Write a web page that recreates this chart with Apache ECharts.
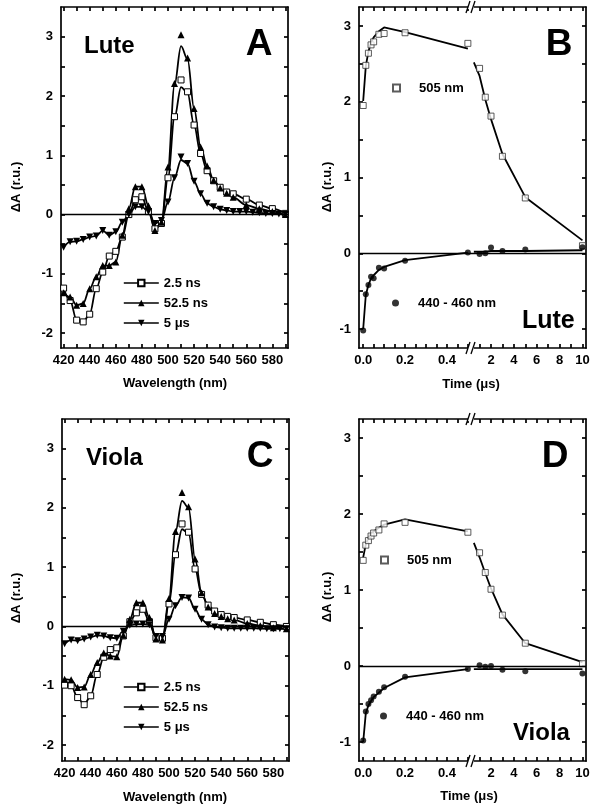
<!DOCTYPE html>
<html><head><meta charset="utf-8">
<script src="https://cdn.jsdelivr.net/npm/echarts@6/dist/echarts.min.js"></script>
<style>html,body{margin:0;padding:0;background:#fff}#c{width:600px;height:811px}</style>
</head><body><div id="c"></div>
<script>
// ---------- data ----------
const wlMain = [420,425,430,435,440,445,450,455,460,465,470,475,480,485,490,495,500,505,510,515,520,525,530,535,540,545,550,560,570,580,590];
const wlFull = [420,425,430,435,440,445,450,455,460,465,470,475,480,485,490,495,500,505,510,515,520,525,530,535,540,545,550,555,560,565,570,575,580,585,590];

// Panel A (Lute)
const lute25    = [-1.24,-1.45,-1.78,-1.81,-1.68,-1.25,-0.97,-0.70,-0.62,-0.38,0.00,0.25,0.30,0.05,-0.24,-0.15,0.62,1.65,2.27,2.07,1.51,1.03,0.74,0.57,0.46,0.38,0.35,0.26,0.16,0.10,0.02];
const lute25Fit = [-1.24,-1.45,-1.78,-1.81,-1.68,-1.25,-0.97,-0.70,-0.62,-0.38,0.00,0.25,0.30,0.05,-0.24,-0.15,0.62,1.63,2.15,2.05,1.51,1.03,0.74,0.57,0.46,0.38,0.35,0.26,0.16,0.10,0.02];
const lute52    = [-1.32,-1.39,-1.53,-1.50,-1.25,-1.05,-0.86,-0.86,-0.80,-0.35,0.10,0.47,0.47,0.15,-0.27,-0.13,0.80,2.21,3.03,2.64,1.79,1.14,0.82,0.58,0.45,0.36,0.29,0.16,0.10,0.05,0.00];
const lute52Fit = [-1.32,-1.39,-1.53,-1.50,-1.25,-1.05,-0.86,-0.86,-0.80,-0.35,0.10,0.47,0.47,0.15,-0.27,-0.13,0.80,2.18,2.84,2.62,1.79,1.14,0.82,0.58,0.45,0.36,0.29,0.16,0.10,0.05,0.00];
const lute5us    = [-0.55,-0.46,-0.45,-0.42,-0.38,-0.36,-0.27,-0.35,-0.29,-0.13,0.00,0.13,0.13,0.05,-0.15,-0.10,0.21,0.62,0.97,0.86,0.56,0.35,0.19,0.13,0.09,0.07,0.05,0.05,0.05,0.04,0.03,0.02,0.02,0.01,0.00];
const lute5usFit = [-0.55,-0.46,-0.45,-0.42,-0.38,-0.36,-0.27,-0.35,-0.29,-0.13,0.00,0.13,0.13,0.05,-0.15,-0.10,0.21,0.62,0.92,0.86,0.56,0.35,0.19,0.13,0.09,0.07,0.05,0.05,0.05,0.04,0.03,0.02,0.02,0.01,0.00];

// Panel C (Viola)
const viola25    = [-0.99,-1.00,-1.20,-1.32,-1.17,-0.81,-0.52,-0.39,-0.36,-0.16,0.08,0.23,0.29,0.08,-0.19,-0.20,0.38,1.21,1.73,1.59,0.97,0.54,0.36,0.26,0.20,0.17,0.15,0.11,0.07,0.03,0.00];
const viola25Fit = [-0.99,-1.00,-1.20,-1.32,-1.17,-0.81,-0.52,-0.39,-0.36,-0.16,0.08,0.23,0.29,0.08,-0.19,-0.20,0.38,1.21,1.64,1.57,0.97,0.54,0.36,0.26,0.20,0.17,0.15,0.11,0.07,0.03,0.00];
const viola52    = [-0.89,-0.90,-1.03,-1.02,-0.81,-0.61,-0.45,-0.50,-0.51,-0.15,0.12,0.40,0.40,0.15,-0.21,-0.23,0.47,1.60,2.26,2.02,1.14,0.57,0.33,0.22,0.17,0.13,0.11,0.05,0.01,-0.02,-0.04];
const viola52Fit = [-0.89,-0.90,-1.03,-1.02,-0.81,-0.61,-0.45,-0.50,-0.51,-0.15,0.12,0.40,0.40,0.15,-0.21,-0.23,0.47,1.60,2.12,2.00,1.14,0.57,0.33,0.22,0.17,0.13,0.11,0.05,0.01,-0.02,-0.04];
const viola5us   = [-0.29,-0.23,-0.24,-0.21,-0.18,-0.15,-0.16,-0.19,-0.20,-0.08,0.02,0.04,0.04,0.03,-0.17,-0.17,0.12,0.35,0.49,0.48,0.29,0.12,0.03,-0.01,-0.02,-0.03,-0.03,-0.03,-0.03,-0.03,-0.03,-0.04,-0.04,-0.04,-0.04];

// Panels B and D (kinetics)
const tEarly = [0, 0.0125, 0.025, 0.0375, 0.05, 0.075, 0.1, 0.2, 0.5];
const tLate  = [1, 1.5, 2, 3, 5, 10];
const tFitLate = [0.5, 1, 1.5, 2, 3, 5, 10];

const lute505Early = [1.95,2.48,2.64,2.75,2.79,2.89,2.90,2.91,2.77];
const lute505Late  = [2.44,2.06,1.81,1.28,0.73,0.10];
const lute505FitEarly = [2.01,2.47,2.66,2.78,2.85,2.93,2.98,2.92,2.70];
const lute505FitLate  = [2.52,2.34,2.03,1.77,1.31,0.74,0.17];
const lute440Early = [-1.02,-0.54,-0.42,-0.31,-0.33,-0.19,-0.20,-0.10,0.01];
const lute440Late  = [-0.01,0.00,0.075,0.03,0.05,0.08];
const lute440FitEarly = [-1.00,-0.55,-0.42,-0.33,-0.29,-0.22,-0.18,-0.09,0.01];
const lute440FitLate  = [0.02,0.02,0.02,0.03,0.03,0.03,0.04];

const viola505Early = [1.39,1.59,1.65,1.71,1.75,1.79,1.87,1.89,1.76];
const viola505Late  = [1.49,1.23,1.01,0.67,0.30,0.03];
const viola505FitEarly = [1.43,1.60,1.69,1.74,1.77,1.82,1.86,1.93,1.77];
const viola505FitLate  = [1.62,1.43,1.22,1.02,0.68,0.30,0.05];
const viola440Early = [-0.98,-0.60,-0.50,-0.45,-0.40,-0.34,-0.28,-0.14,-0.04];
const viola440Late  = [0.01,-0.01,0.00,-0.05,-0.07,-0.10];
const viola440FitEarly = [-1.00,-0.62,-0.52,-0.46,-0.41,-0.35,-0.29,-0.15,-0.04];
const viola440FitLate  = [-0.04,-0.04,-0.04,-0.04,-0.04,-0.04,-0.04];

// ---------- ticks / labels ----------
const wlTicks  = [420,430,440,450,460,470,480,490,500,510,520,530,540,550,560,570,580,590];
const wlLabels = [420,440,460,480,500,520,540,560,580];
const yTicksAC  = [-2,-1.5,-1,-0.5,0,0.5,1,1.5,2,2.5,3];
const yLabelsAC = [-2,-1,0,1,2,3];
const yTicksBD  = [-1,-0.5,0,0.5,1,1.5,2,2.5,3];
const yLabelsBD = [-1,0,1,2,3];
const tEarlyTicks  = [0,0.05,0.1,0.15,0.2,0.25,0.3,0.35,0.4,0.45,0.5];
const tEarlyLabels = [0,0.2,0.4];
const tLateTicks  = [1,2,3,4,5,6,7,8,9,10];
const tLateLabels = [2,4,6,8,10];

// ---------- helpers ----------
const F = "'Liberation Sans', Arial, Helvetica, sans-serif";
const AX = {color:'#000', width:1.7};
const pts = (xs, ys) => xs.map((x,i)=>[x, ys[i]]);

function axis(kind, grid, pos, min, max, ticks, labels, fmt) {
  return {type:'value', gridIndex:grid, position:pos, min:min, max:max,
    axisLine:{show:true, onZero:false, lineStyle:AX},
    axisTick:{show:true, inside:true, length:4, customValues:ticks, lineStyle:AX},
    axisLabel: labels ? {show:true, customValues:labels, formatter:fmt, color:'#000',
      fontFamily:F, fontWeight:'bold', fontSize:13, margin:(kind==='x'?6:8)} : {show:false},
    splitLine:{show:false}};
}
const fmtInt = v => String(Math.round(v));
const fmtT = v => v.toFixed(1);

const zeroLine = {silent:true, symbol:['none','none'], label:{show:false},
  lineStyle:{color:'#000', width:1.3, type:'solid'}, data:[{yAxis:0}], animation:false};

const SQ = {symbol:'rect', symbolSize:6, itemStyle:{color:'#fff', borderColor:'#000', borderWidth:1}};
const UP = {symbol:'triangle', symbolSize:7, itemStyle:{color:'#000'}};
const DN = {symbol:'path://M0,0L10,0L5,9Z', symbolSize:7, itemStyle:{color:'#000'}};

function markerLine(name, xi, yi, xs, ys, st) {
  return Object.assign({type:'line', name:name, xAxisIndex:xi, yAxisIndex:yi,
    data:pts(xs, ys), showSymbol:true, showAllSymbol:true, lineStyle:{opacity:0, width:0}, z:4}, JSON.parse(JSON.stringify(st)));
}
function fitLine(xi, yi, xs, ys, smooth, withZero) {
  const s = {type:'line', xAxisIndex:xi, yAxisIndex:yi, data:pts(xs, ys), showSymbol:false,
    smooth:smooth, smoothMonotone:'x', lineStyle:{color:'#000', width:1.8}, itemStyle:{color:'#000'}, z:3};
  if (withZero) s.markLine = zeroLine;
  return s;
}
function scat(name, xi, yi, xs, ys, st) {
  return Object.assign({type:'scatter', name:name, xAxisIndex:xi, yAxisIndex:yi, data:pts(xs, ys), z:4},
    JSON.parse(JSON.stringify(st)));
}

const SQB = {symbol:'rect', symbolSize:6, itemStyle:{color:'#fff', borderColor:'#333', borderWidth:1}};
const CIR = {symbol:'circle', symbolSize:6, itemStyle:{color:'#000'}};

const legendText = {color:'#000', fontFamily:F, fontWeight:'bold', fontSize:13, lineHeight:14};
function specLegend(top) {
  return {left:118, top:top, orient:'vertical', itemWidth:35, itemHeight:8, itemGap:6,
    selectedMode:false, data:['2.5 ns','52.5 ns','5 μs'], textStyle:legendText,
    lineStyle:{color:'#000', width:1.6, opacity:1}};
}
function kinLegend(name, left, top, icon) {
  return {left:left, top:top, itemWidth:7, itemHeight:7, selectedMode:false,
    data:[{name:name, icon:icon}],
    textStyle:Object.assign({padding:[0,0,0,14]}, legendText)};
}

function txt(x, y, text, size, align, rot) {
  const e = {type:'text', x:x, y:y, z:100,
    style:{text:text, fill:'#000', fontFamily:F, fontWeight:'bold', fontSize:size,
      textAlign:align||'left', textVerticalAlign:'middle'}};
  if (rot) e.rotation = rot;
  return e;
}
function brk(cx, cy) {
  return [
    {type:'rect', z:100, shape:{x:cx-3, y:cy-2, width:6, height:4}, style:{fill:'#fff'}},
    {type:'line', z:101, shape:{x1:cx-5, y1:cy+6, x2:cx-1, y2:cy-6}, style:{stroke:'#000', lineWidth:1.3}},
    {type:'line', z:101, shape:{x1:cx, y1:cy+6, x2:cx+4, y2:cy-6}, style:{stroke:'#000', lineWidth:1.3}}
  ];
}

const option = {
  animation:false,
  backgroundColor:'#fff',
  grid:[
    {left:61, top:7, width:227, height:341},
    {left:359, top:7, width:112, height:341},
    {left:471, top:7, width:115, height:341},
    {left:62, top:419, width:227, height:342},
    {left:359, top:419, width:112, height:342},
    {left:471, top:419, width:115, height:342}
  ],
  xAxis:[
    axis('x',0,'bottom',418,592,wlTicks,wlLabels,fmtInt),
    axis('x',0,'top',418,592,wlTicks,null),
    axis('x',1,'bottom',-0.02,0.515,tEarlyTicks,tEarlyLabels,fmtT),
    axis('x',1,'top',-0.02,0.515,tEarlyTicks,null),
    axis('x',2,'bottom',0.25,10.31,tLateTicks,tLateLabels,fmtInt),
    axis('x',2,'top',0.25,10.31,tLateTicks,null),
    axis('x',3,'bottom',418,592,wlTicks,wlLabels,fmtInt),
    axis('x',3,'top',418,592,wlTicks,null),
    axis('x',4,'bottom',-0.02,0.515,tEarlyTicks,tEarlyLabels,fmtT),
    axis('x',4,'top',-0.02,0.515,tEarlyTicks,null),
    axis('x',5,'bottom',0.25,10.31,tLateTicks,tLateLabels,fmtInt),
    axis('x',5,'top',0.25,10.31,tLateTicks,null)
  ],
  yAxis:[
    axis('y',0,'left',-2.25,3.5,yTicksAC,yLabelsAC,fmtInt),
    axis('y',0,'right',-2.25,3.5,yTicksAC,null),
    axis('y',1,'left',-1.25,3.25,yTicksBD,yLabelsBD,fmtInt),
    axis('y',2,'right',-1.25,3.25,yTicksBD,null),
    axis('y',3,'left',-2.27,3.5,yTicksAC,yLabelsAC,fmtInt),
    axis('y',3,'right',-2.27,3.5,yTicksAC,null),
    axis('y',4,'left',-1.25,3.25,yTicksBD,yLabelsBD,fmtInt),
    axis('y',5,'right',-1.25,3.25,yTicksBD,null)
  ],
  legend:[
    specLegend(271),
    kinLegend('505 nm', 387, 76, 'rect'),
    kinLegend('440 - 460 nm', 387, 291, 'circle'),
    specLegend(675),
    kinLegend('505 nm', 375, 548, 'rect'),
    kinLegend('440 - 460 nm', 375, 704, 'circle')
  ],
  series:[
    // A
    fitLine(0,0,wlMain,lute25Fit,0.35,true),
    fitLine(0,0,wlMain,lute52Fit,0.35,false),
    fitLine(0,0,wlFull,lute5usFit,0.35,false),
    markerLine('2.5 ns',0,0,wlMain,lute25,SQ),
    markerLine('52.5 ns',0,0,wlMain,lute52,UP),
    markerLine('5 μs',0,0,wlFull,lute5us,DN),
    // B
    fitLine(2,2,tEarly,lute505FitEarly,false,true),
    fitLine(2,2,tEarly,lute440FitEarly,false,false),
    fitLine(4,3,tFitLate,lute505FitLate,false,true),
    fitLine(4,3,tFitLate,lute440FitLate,false,false),
    scat('505 nm',2,2,tEarly,lute505Early,SQB),
    scat('505 nm',4,3,tLate,lute505Late,SQB),
    scat('440 - 460 nm',2,2,tEarly,lute440Early,CIR),
    scat('440 - 460 nm',4,3,tLate,lute440Late,CIR),
    // C
    fitLine(6,4,wlMain,viola25Fit,0.35,true),
    fitLine(6,4,wlMain,viola52Fit,0.35,false),
    fitLine(6,4,wlFull,viola5us,0.35,false),
    markerLine('2.5 ns',6,4,wlMain,viola25,SQ),
    markerLine('52.5 ns',6,4,wlMain,viola52,UP),
    markerLine('5 μs',6,4,wlFull,viola5us,DN),
    // D
    fitLine(8,6,tEarly,viola505FitEarly,false,true),
    fitLine(8,6,tEarly,viola440FitEarly,false,false),
    fitLine(10,7,tFitLate,viola505FitLate,false,true),
    fitLine(10,7,tFitLate,viola440FitLate,false,false),
    scat('505 nm',8,6,tEarly,viola505Early,SQB),
    scat('505 nm',10,7,tLate,viola505Late,SQB),
    scat('440 - 460 nm',8,6,tEarly,viola440Early,CIR),
    scat('440 - 460 nm',10,7,tLate,viola440Late,CIR)
  ],
  graphic:[].concat(
    [
      txt(84,46,'Lute',24,'left'),
      txt(259,45,'A',37,'center'),
      txt(559,45,'B',37,'center'),
      txt(522,321,'Lute',25,'left'),
      txt(86,458,'Viola',24,'left'),
      txt(260,457,'C',37,'center'),
      txt(555,457,'D',37,'center'),
      txt(513,733,'Viola',24,'left'),
      txt(16,187,'ΔA (r.u.)',13,'center',Math.PI/2),
      txt(327,187,'ΔA (r.u.)',13,'center',Math.PI/2),
      txt(16,598,'ΔA (r.u.)',13,'center',Math.PI/2),
      txt(327,597,'ΔA (r.u.)',13,'center',Math.PI/2),
      txt(175,383,'Wavelength (nm)',13,'center'),
      txt(175,797,'Wavelength (nm)',13,'center'),
      txt(471,384,'Time (μs)',13,'center'),
      txt(469,796,'Time (μs)',13,'center')
    ],
    brk(471,7), brk(471,348), brk(471,419), brk(471,761)
  )
};

const chart = echarts.init(document.getElementById('c'), null, {renderer:'canvas'});
chart.setOption(option);
</script></body></html>
